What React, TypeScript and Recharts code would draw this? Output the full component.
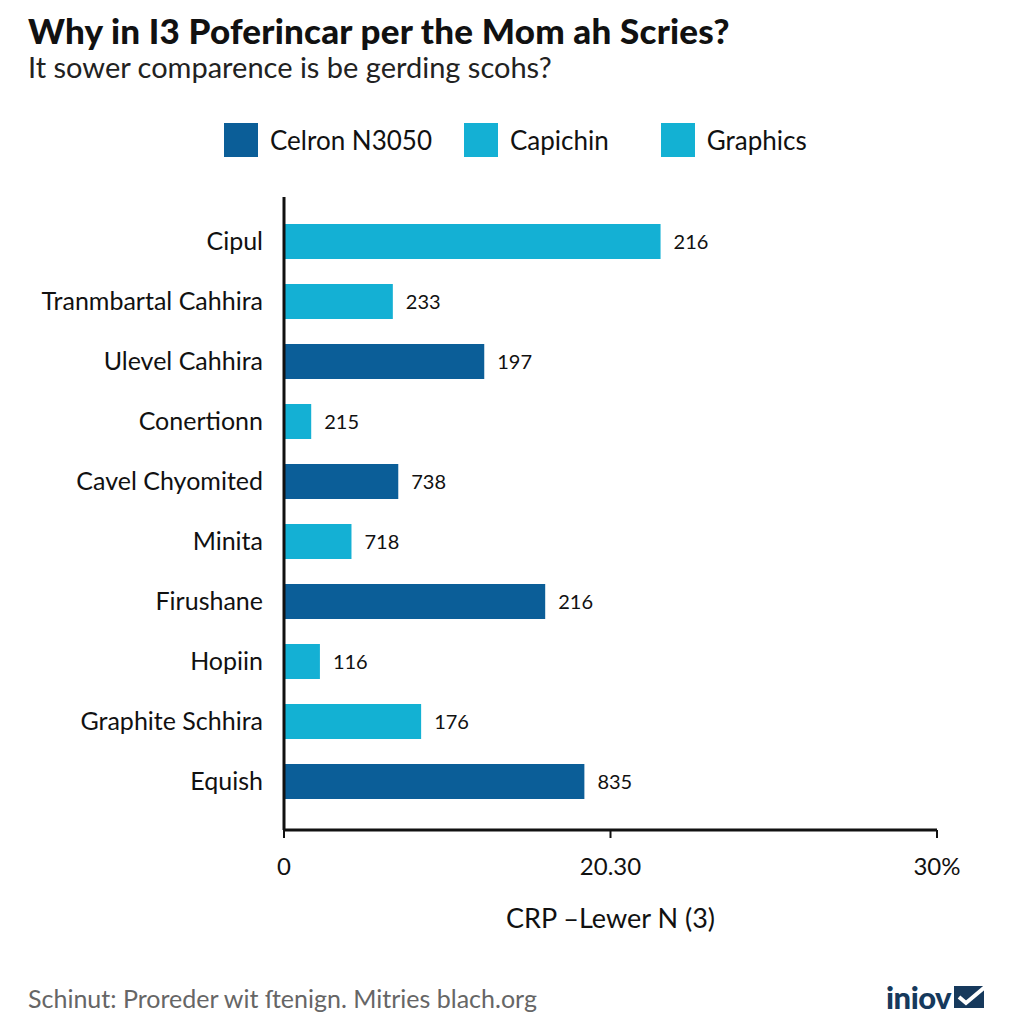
import { Bar, BarChart, Cell, LabelList, XAxis, YAxis } from "recharts";

const categories = [
    "Cipul",
    "Tranmbartal Cahhira",
    "Ulevel Cahhira",
    "Conertionn",
    "Cavel Chyomited",
    "Minita",
    "Firushane",
    "Hopiin",
    "Graphite Schhira",
    "Equish"
];
const barValues = [17.3, 5.0, 9.2, 1.25, 5.25, 3.1, 12.0, 1.65, 6.3, 13.8];
const barLabels = ["216", "233", "197", "215", "738", "718", "216", "116", "176", "835"];
// index into the legend series for each bar
const barSeries = [1, 1, 0, 1, 0, 1, 0, 1, 2, 0];

const seriesNames = ["Celron N3050", "Capichin", "Graphics"];
const seriesColors = ["#0b5e98", "#14b0d4", "#13b1d3"];

const xTicks = [0, 15, 30];
const xTickLabels = ["0", "20.30", "30%"];

const data = categories.map((name, i) => ({
    name,
    value: barValues[i],
    label: barLabels[i],
    series: barSeries[i]
}));

const font = "Lato, 'Open Sans', sans-serif";

export default function App() {
    return (
        <div
            style={{
                position: "absolute",
                left: 0,
                top: 0,
                width: 1024,
                height: 1024,
                background: "#fff",
                fontFamily: font,
                color: "#111",
                overflow: "hidden"
            }}
        >
            <div style={{ position: "absolute", left: 0, top: 0 }}>
                <BarChart
                    width={1024}
                    height={1024}
                    data={data}
                    layout="vertical"
                    margin={{ top: 197, right: 87, bottom: 94, left: 0 }}
                    barSize={35}
                >
                    <XAxis
                        type="number"
                        domain={[0, 30]}
                        ticks={xTicks}
                        tickFormatter={(v: number) => xTickLabels[xTicks.indexOf(v)] ?? ""}
                        axisLine={{ stroke: "#111", strokeWidth: 3 }}
                        tickLine={{ stroke: "#111", strokeWidth: 2 }}
                        tickSize={8}
                        tickMargin={20}
                        height={100}
                        tick={{ fill: "#111", fontSize: 24, fontFamily: font }}
                        label={{
                            value: "CRP –Lewer N (3)",
                            position: "insideBottom",
                            offset: 2,
                            fill: "#111",
                            fontSize: 27,
                            fontFamily: font
                        }}
                    />
                    <YAxis
                        type="category"
                        dataKey="name"
                        width={284}
                        padding={{ top: 14, bottom: 19 }}
                        axisLine={{ stroke: "#111", strokeWidth: 3 }}
                        tickLine={false}
                        tickSize={0}
                        tickMargin={21}
                        tick={{ fill: "#111", fontSize: 25, fontFamily: font }}
                    />
                    <Bar dataKey="value" isAnimationActive={false}>
                        {data.map((d) => (
                            <Cell key={d.name} fill={seriesColors[d.series]} />
                        ))}
                        <LabelList
                            dataKey="label"
                            position="right"
                            offset={13}
                            fill="#111"
                            fontSize={20}
                            fontFamily={font}
                        />
                    </Bar>
                </BarChart>
            </div>

            <div
                style={{
                    position: "absolute",
                    left: 28,
                    top: 9,
                    fontSize: 35,
                    fontWeight: 900,
                    whiteSpace: "nowrap",
                    letterSpacing: 0.2
                }}
            >
                Why in I3 Poferincar per the Mom ah Scries?
            </div>
            <div
                style={{
                    position: "absolute",
                    left: 28,
                    top: 49,
                    fontSize: 29,
                    color: "#222",
                    whiteSpace: "nowrap"
                }}
            >
                It sower comparence is be gerding scohs?
            </div>

            <div
                style={{
                    position: "absolute",
                    left: 224,
                    top: 123,
                    display: "flex",
                    alignItems: "center",
                    fontSize: 26,
                    whiteSpace: "nowrap"
                }}
            >
                {seriesNames.map((name, i) => (
                    <div
                        key={name}
                        style={{ display: "flex", alignItems: "center", marginRight: i === 0 ? 32 : 52 }}
                    >
                        <span
                            style={{
                                display: "inline-block",
                                width: 34,
                                height: 34,
                                background: seriesColors[i],
                                marginRight: 12
                            }}
                        />
                        <span>{name}</span>
                    </div>
                ))}
            </div>

            <div
                style={{
                    position: "absolute",
                    left: 28,
                    top: 983,
                    fontSize: 25,
                    color: "#666",
                    whiteSpace: "nowrap"
                }}
            >
                Schinut: Proreder wit ſtenign. Mitries blach.org
            </div>
            <div
                style={{
                    position: "absolute",
                    left: 886,
                    top: 978,
                    display: "flex",
                    alignItems: "center",
                    color: "#16395c",
                    fontSize: 31,
                    fontWeight: 900,
                    letterSpacing: -0.5
                }}
            >
                <span>iniov</span>
                <svg width={34} height={26} viewBox="0 0 34 26" style={{ marginLeft: 2 }}>
                    <rect x={1} y={2} width={30} height={22} fill="#16395c" />
                    <path d="M6 13 L13 19 L32 3" stroke="#fff" strokeWidth={4} fill="none" />
                </svg>
            </div>
        </div>
    );
}
